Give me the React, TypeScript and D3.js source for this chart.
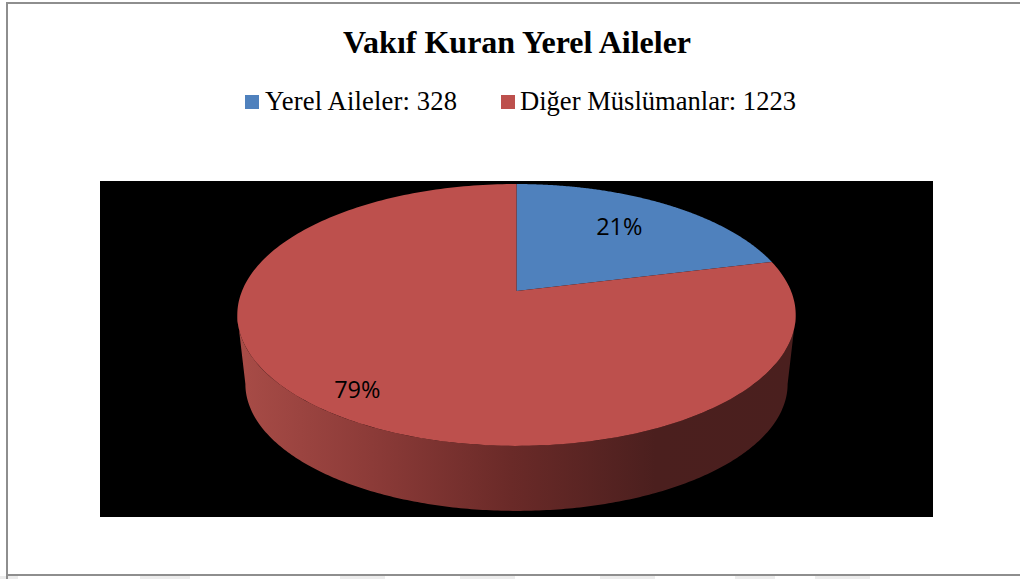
import React from "react";
import * as d3 from "d3";

const categories = ["Yerel Aileler", "Diğer Müslümanlar"];
const values = [328, 1223];
const percentLabels = ["21%", "79%"];
const colors = ["#4f81bd", "#bd504d"];
const legendLabels = ["Yerel Aileler: 328", "Diğer Müslümanlar: 1223"];
const legendSwatchX = [245, 501];
const legendTextX = [265, 520];
const legendTextWidth = [192, 276];
const labelRadius = [0.7, 0.85];
const labelAngleShift = -0.028;
const sideStops = [
  { o: 0, c: "#a84c47" },
  { o: 0.24, c: "#8c3b38" },
  { o: 0.49, c: "#6a2a28" },
  { o: 0.75, c: "#4b1f1e" },
  { o: 1, c: "#4a1f1e" },
];
const watermark = [
  [0, 18], [140, 190], [340, 385], [460, 515], [600, 655], [735, 775], [815, 870],
];

const W = 1020;
const H = 579;
const CX = 516.5;
// perspective projection of the pie's unit circle
const PY = 291; // apex
const PA = -73.3;
const PC = 0.183;
const PK = 274.5;
const projectTop = (t: number, a: number): [number, number] => {
  const u = t * Math.sin(a);
  const v = t * Math.cos(a);
  const d = 1 + PC * v;
  return [CX + (PK * u) / d, (PA * v + PY) / d];
};
const RIM_SCALE = 0.971;
const projectBottom = (a: number): [number, number] => {
  const [x, y] = projectTop(1, a);
  return [CX + (x - CX) * RIM_SCALE, 384 + (y - 315) * (127 / 131)];
};

const line = d3.line();
const sample = (a0: number, a1: number) => d3.range(0, 241).map((i) => a0 + ((a1 - a0) * i) / 240);

export default function App() {
  const slices = d3.pie<number>().sort(null)(values);
  const aw = Math.acos(-PC);
  const side = [
    ...sample(aw, 2 * Math.PI - aw).map((a) => projectTop(1, a)),
    ...sample(2 * Math.PI - aw, aw).map((a) => projectBottom(a)),
  ];
  return (
    <svg
      width={W}
      height={H}
      viewBox={`0 0 ${W} ${H}`}
      style={{ position: "absolute", left: 0, top: 0, display: "block", background: "#fff" }}
    >
      <defs>
        <linearGradient id="side" gradientUnits="userSpaceOnUse" x1={238} x2={795} y1={0} y2={0}>
          {sideStops.map((s) => (
            <stop key={s.o} offset={s.o} stopColor={s.c} />
          ))}
        </linearGradient>
      </defs>
      {watermark.map(([a, b]) => (
        <rect key={a} x={a} y={576} width={b - a} height={3} fill="#ececec" />
      ))}
      <path d="M7 579V3H1020" fill="none" stroke="#8e8e8e" strokeWidth={2} />
      <path d="M7 575H1020" fill="none" stroke="#8e8e8e" strokeWidth={2} />
      <text
        x={517}
        y={52.5}
        textAnchor="middle"
        fontFamily="'Liberation Serif'"
        fontWeight="bold"
        fontSize={32}
        fill="#000"
      >
        Vakıf Kuran Yerel Aileler
      </text>
      {legendLabels.map((l, i) => (
        <g key={l}>
          <rect x={legendSwatchX[i]} y={95} width={14} height={14} fill={colors[i]} />
          <text
            x={legendTextX[i]}
            y={110}
            fontFamily="'Liberation Serif'"
            fontSize={26.6}
            fill="#000"
            textLength={legendTextWidth[i]}
            lengthAdjust="spacing"
          >
            {l}
          </text>
        </g>
      ))}
      <rect x={100} y={181} width={833} height={336} fill="#000" />
      <path d={line(side) + "Z"} fill="url(#side)" />
      {slices.map((s, i) => (
        <path
          key={categories[i]}
          d={line([[CX, PY], ...sample(s.startAngle, s.endAngle).map((a) => projectTop(1, a))]) + "Z"}
          fill={colors[i]}
        />
      ))}
      {slices.map((s, i) => {
        const [x, y] = projectTop(labelRadius[i], (s.startAngle + s.endAngle) / 2 + labelAngleShift);
        return (
          <text
            key={percentLabels[i]}
            x={x - 0.7}
            y={y + 8.4}
            textAnchor="middle"
            fontFamily="'Open Sans'"
            fontSize={23.5}
            fill="#000"
          >
            {percentLabels[i]}
          </text>
        );
      })}
    </svg>
  );
}
